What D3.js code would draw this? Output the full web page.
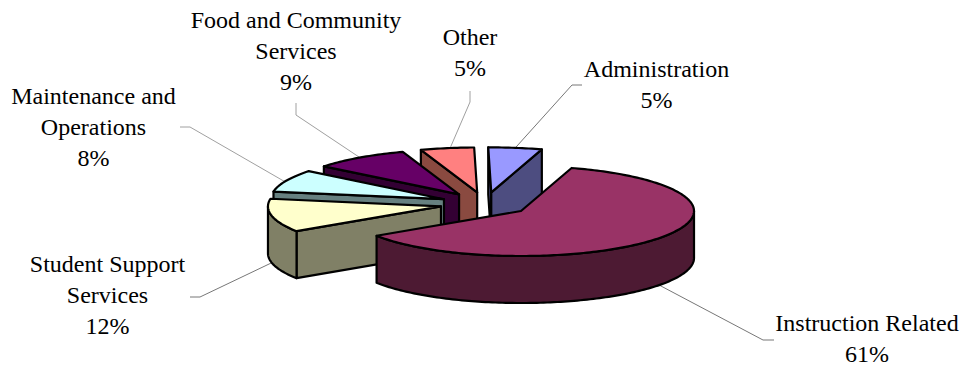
<!DOCTYPE html>
<html>
<head>
<meta charset="utf-8">
<script src="https://cdn.jsdelivr.net/npm/d3@7/dist/d3.min.js"></script>
<style>
  html, body { margin: 0; padding: 0; background: #fff; }
  text { font-family: "Liberation Serif", serif; font-size: 24px; fill: #000; text-anchor: middle; }
</style>
</head>
<body>
<svg id="chart" width="964" height="368"></svg>
<script>
// Budget shares, clockwise from the large slice
const categories = ["Instruction Related", "Student Support Services", "Maintenance and Operations",
                    "Food and Community Services", "Other", "Administration"];
const shares = [61, 12, 8, 9, 5, 5];
const topColors = ["#993366", "#ffffcc", "#ccffff", "#660066", "#ff8080", "#9999ff"];
const wallColors = ["#4d1a33", "#808066", "#668080", "#330033", "#8a4a40", "#4d4d80"];
const labelLines = [["Instruction Related", "61%"], ["Student Support", "Services", "12%"],
                    ["Maintenance and", "Operations", "8%"], ["Food and Community", "Services", "9%"],
                    ["Other", "5%"], ["Administration", "5%"]];
const labelCentres = [[867, 331], [107.5, 272], [93.5, 104], [296, 28], [470, 45], [656.5, 77]];

// Each leader runs from a rim point of its slice through an elbow to its label
const leaderAngles = [127, 258, 293, 325, 351, 8];
const leaderElbows = [[[763, 340], [774, 340]], [[200, 297], [190, 297]], [[190, 127], [180, 127]],
                      [[296, 115], [296, 103]], [[470, 102], [470, 91]], [[572, 85], [582, 85]]];
const leaderShades = ["#777777", "#777777", "#a0a0a0", "#a0a0a0", "#a0a0a0", "#777777"];

const svg = d3.select("#chart");
const cx = 485, cy = 204, rx = 173, ry = 45, depth = 47, explode = 0.26;
const lineHeight = 31;

// Unit-circle coordinates projected onto the tilted pie plane
const px = d3.scaleLinear().domain([-1, 1]).range([cx - rx, cx + rx]);
const py = d3.scaleLinear().domain([-1, 1]).range([cy - ry, cy + ry]);
const toRad = d => d * Math.PI / 180;
const start = toRad(17);

const slices = d3.pie().sort(null).startAngle(start).endAngle(start + 2 * Math.PI)(shares);
const path = d3.line();

const unit = (angle, r = 1) => [r * Math.sin(angle), -r * Math.cos(angle)];

// Returns a projector for points on one slice, shifted outward along its mid angle
function projector(s) {
  const [ox, oy] = unit((s.startAngle + s.endAngle) / 2, explode);
  return (angle, r = 1, drop = 0) => {
    const [ux, uy] = unit(angle, r);
    return [px(ux + ox), py(uy + oy) + drop];
  };
}

function arcPoints(a0, a1, at, drop = 0) {
  const n = Math.max(2, Math.ceil(Math.abs(a1 - a0) / 0.02));
  return d3.range(n + 1).map(i => at(a0 + (a1 - a0) * i / n, 1, drop));
}

// Leader lines sit under the pie
leaderAngles.forEach((deg, i) => {
  const a = toRad(deg);
  const at = projector(slices[i]);
  const rim = at(a, 1, Math.cos(a) < 0 ? depth : 0);
  svg.append("path")
    .attr("d", path([rim].concat(leaderElbows[i])))
    .attr("fill", "none").attr("stroke", leaderShades[i]).attr("stroke-width", 1);
});

// Back-to-front painting order
[5, 4, 3, 2, 1, 0].forEach(i => {
  const s = slices[i];
  const at = projector(s);
  const g = svg.append("g").attr("class", "slice");
  const face = (pts, fill) => g.append("path")
    .attr("d", path(pts) + "Z").attr("fill", fill)
    .attr("stroke", "#000").attr("stroke-width", 2.2)
    .attr("stroke-linejoin", "round");

  // Cut faces: drawn only when the outward normal points toward the viewer
  [[s.startAngle, s.startAngle - Math.PI / 2], [s.endAngle, s.endAngle + Math.PI / 2]].forEach(([a, n]) => {
    if (Math.cos(n) >= 0) return;
    const apex = at(a, 0), rim = at(a, 1);
    face([apex, rim, [rim[0], rim[1] + depth], [apex[0], apex[1] + depth]], wallColors[i]);
  });

  // Outer rim, visible between 90 and 270 degrees clockwise from the top
  const lo = Math.max(s.startAngle, Math.PI / 2), hi = Math.min(s.endAngle, 3 * Math.PI / 2);
  if (hi > lo) {
    face(arcPoints(lo, hi, at).concat(arcPoints(hi, lo, at, depth)), wallColors[i]);
  }

  // Top surface
  face([at(s.startAngle, 0)].concat(arcPoints(s.startAngle, s.endAngle, at)), topColors[i]);
});

labelLines.forEach((lines, i) => {
  const [x, y] = labelCentres[i];
  const t = svg.append("text").attr("aria-label", categories[i]);
  lines.forEach((ln, k) => {
    t.append("tspan").attr("x", x).attr("y", y + k * lineHeight).text(ln);
  });
});
</script>
</body>
</html>
